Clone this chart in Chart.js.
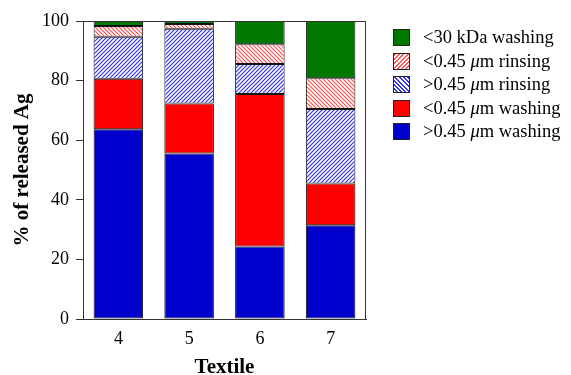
<!DOCTYPE html>
<html>
<head>
<meta charset="utf-8">
<script src="https://cdn.jsdelivr.net/npm/chart.js@4.4.0/dist/chart.umd.min.js"></script>
<style>
  body { margin: 0; background: #fff; }
  #wrap { position: relative; width: 571px; height: 375px; }
  #legend { position: absolute; left: 393px; top: 26px; font-family: "Liberation Serif", serif; font-size: 18.5px; color: #000; }
  .item { height: 23.5px; display: flex; align-items: center; white-space: nowrap; }
  .sw { width: 17px; height: 17px; border: 1px solid #222; margin-right: 13px; box-sizing: border-box; flex: none; }
</style>
</head>
<body>
<div id="wrap">
  <canvas id="chart" width="571" height="375"></canvas>
  <div id="legend">
    <div class="item"><span class="sw" style="background:#007800"></span><span>&lt;30 kDa washing</span></div>
    <div class="item"><span class="sw" style="background:repeating-linear-gradient(-45deg,#fff 0 1.5px,#ff5555 1.5px 3px)"></span><span>&lt;0.45 <i>&mu;</i>m rinsing</span></div>
    <div class="item"><span class="sw" style="background:repeating-linear-gradient(45deg,#fff 0 1.5px,#3333ee 1.5px 3px)"></span><span>&gt;0.45 <i>&mu;</i>m rinsing</span></div>
    <div class="item"><span class="sw" style="background:#ff0000"></span><span>&lt;0.45 <i>&mu;</i>m washing</span></div>
    <div class="item"><span class="sw" style="background:#0000cc"></span><span>&gt;0.45 <i>&mu;</i>m washing</span></div>
  </div>
</div>
<script>
// textiles on the x axis
const textiles = ['4', '5', '6', '7'];
// % of released Ag per fraction (stacked, bottom to top)
const largeWashing = [63.7, 55.5, 24.3, 31.5];
const smallWashing = [16.9, 16.8, 51.2, 14.0];
const largeRinsing = [14.1, 25.1, 10.1, 25.0];
const smallRinsing = [3.6, 1.6, 6.6, 10.3];
const kdaWashing = [1.7, 1.0, 7.8, 19.2];
const yTicks = [0, 20, 40, 60, 80, 100];

// diagonal hatch pattern
function hatch(color, dir) {
  const c = document.createElement('canvas');
  c.width = 4; c.height = 4;
  const g = c.getContext('2d');
  g.fillStyle = '#fff';
  g.fillRect(0, 0, 4, 4);
  g.strokeStyle = color;
  g.lineWidth = 1.2;
  g.beginPath();
  if (dir > 0) {
    g.moveTo(-1, 5); g.lineTo(5, -1);
    g.moveTo(-1, 1); g.lineTo(1, -1);
    g.moveTo(3, 5); g.lineTo(5, 3);
  } else {
    g.moveTo(-1, -1); g.lineTo(5, 5);
    g.moveTo(3, -1); g.lineTo(5, 1);
    g.moveTo(-1, 3); g.lineTo(1, 5);
  }
  g.stroke();
  return g.createPattern(c, 'repeat');
}

const ctx = document.getElementById('chart').getContext('2d');

const frame = {
  id: 'frame',
  afterDatasetsDraw(chart) {
    const a = chart.chartArea;
    const g = chart.ctx;
    g.save();
    g.strokeStyle = '#333';
    g.lineWidth = 1;
    g.strokeRect(a.left + 0.5, a.top + 0.5, a.right - a.left - 1, a.bottom - a.top);
    g.restore();
  }
};

function ds(label, data, bg) {
  return { label: label, data: data, backgroundColor: bg, borderColor: '#111', borderWidth: 1, borderSkipped: false };
}

new Chart(ctx, {
  type: 'bar',
  data: {
    labels: textiles,
    datasets: [
      ds('>0.45 μm washing', largeWashing, '#0000cc'),
      ds('<0.45 μm washing', smallWashing, '#ff0000'),
      ds('>0.45 μm rinsing', largeRinsing, hatch('#3333ee', 1)),
      ds('<0.45 μm rinsing', smallRinsing, hatch('#ff5555', -1)),
      ds('<30 kDa washing', kdaWashing, '#007800')
    ]
  },
  options: {
    responsive: false,
    animation: false,
    layout: { padding: { top: 21, right: 205, left: 0, bottom: 0 } },
    datasets: { bar: { categoryPercentage: 1, barPercentage: 0.7 } },
    plugins: { legend: { display: false }, tooltip: { enabled: false } },
    scales: {
      x: {
        stacked: true,
        grid: { display: false },
        border: { display: true, color: '#333' },
        ticks: { color: '#000', font: { family: 'Liberation Serif', size: 18 }, padding: 1 },
        title: { display: true, text: 'Textile', color: '#000', font: { family: 'Liberation Serif', size: 21, weight: 'bold' }, padding: { top: 0, bottom: -5 } },
        afterFit(s) { s.height = 56; }
      },
      y: {
        stacked: true,
        min: 0, max: 100,
        afterBuildTicks(s) { s.ticks = yTicks.map(v => ({ value: v })); },
        grid: { drawOnChartArea: false, tickLength: 7, color: '#333' },
        border: { display: true, color: '#333' },
        ticks: { color: '#000', font: { family: 'Liberation Serif', size: 18 }, padding: 7 },
        title: { display: true, text: '% of released Ag', color: '#000', font: { family: 'Liberation Serif', size: 21, weight: 'bold' }, padding: { top: 10, bottom: 0 } },
        afterFit(s) { s.width = 83; }
      }
    }
  },
  plugins: [frame]
});
</script>
</body>
</html>
